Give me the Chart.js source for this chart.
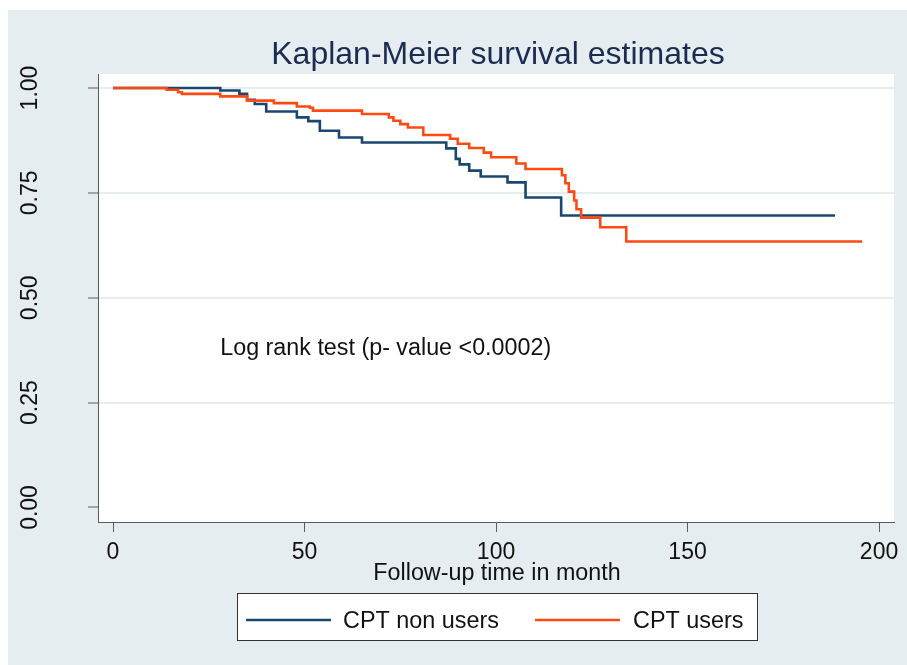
<!DOCTYPE html>
<html><head><meta charset="utf-8">
<script src="https://cdn.jsdelivr.net/npm/chart.js@4"></script>
<style>html,body{margin:0;padding:0;background:#fff;}#wrap{width:907px;height:665px;position:relative;}</style>
</head><body><div id="wrap"><canvas id="c" width="907" height="665"></canvas></div>
<script>
const titleText = 'Kaplan-Meier survival estimates';
const xAxisTitle = 'Follow-up time in month';
const annotationText = 'Log rank test (p- value <0.0002)';
const seriesNames = ['CPT non users', 'CPT users'];
const xTickValues = [0, 50, 100, 150, 200];
const xTickLabels = ['0', '50', '100', '150', '200'];
const yTickValues = [0, 0.25, 0.5, 0.75, 1];
const yTickLabels = ['0.00', '0.25', '0.50', '0.75', '1.00'];

const nonUsersTime = [0, 28, 33, 35, 37, 40, 48, 51, 54, 59, 65, 87, 89.5, 90.5, 93, 96, 103, 107.7, 117, 188.5];
const nonUsersSurv = [1, 0.994, 0.986, 0.972, 0.962, 0.944, 0.930, 0.921, 0.898, 0.882, 0.870, 0.856, 0.831, 0.818, 0.803, 0.789, 0.775, 0.739, 0.696, 0.696];

const usersTime = [0, 14, 17, 18, 28, 35, 42, 48, 51.4, 52.2, 65, 72, 73.2, 75, 77, 81, 88, 90, 93, 96.8, 98.7, 105.3, 107.7, 117.2, 118.1, 119, 120.4, 121, 122.2, 127.2, 134, 195.6];
const usersSurv = [1, 0.996, 0.990, 0.986, 0.980, 0.970, 0.964, 0.956, 0.953, 0.946, 0.938, 0.930, 0.922, 0.914, 0.906, 0.888, 0.879, 0.867, 0.857, 0.846, 0.835, 0.820, 0.807, 0.792, 0.773, 0.753, 0.732, 0.711, 0.691, 0.668, 0.634, 0.634];

const FONT = "'Liberation Sans', Arial, sans-serif";
const NAVY = '#1A476F';
const ORANGE = '#FF4A14';
const BG = '#E5EDF0';
const GRID = '#E5EDF0';
const AXIS = '#5a5a5a';

const toPts = (ts, ss) => ts.map((t, i) => ({ x: t, y: ss[i] }));

const decor = {
  id: 'decor',
  beforeDraw(chart) {
    const { ctx, chartArea: a } = chart;
    ctx.save();
    ctx.fillStyle = '#ffffff';
    ctx.fillRect(0, 0, chart.width, chart.height);
    ctx.fillStyle = BG;
    ctx.fillRect(8, 10, chart.width - 8, chart.height - 10);
    ctx.fillStyle = '#ffffff';
    ctx.fillRect(a.left, a.top, a.right - a.left, a.bottom - a.top);
    ctx.restore();
  },
  afterDraw(chart) {
    const { ctx, chartArea: a } = chart;
    const xs = chart.scales.x, ys = chart.scales.y;
    ctx.save();
    // title
    ctx.fillStyle = '#1C2B50';
    ctx.font = '32px ' + FONT;
    ctx.textAlign = 'center';
    ctx.textBaseline = 'alphabetic';
    ctx.fillText(titleText, 498, 64);
    // y tick labels (rotated)
    ctx.fillStyle = '#111';
    ctx.font = '23px ' + FONT;
    yTickValues.forEach((v, i) => {
      const py = ys.getPixelForValue(v);
      ctx.save();
      ctx.translate(37, py);
      ctx.rotate(-Math.PI / 2);
      ctx.textAlign = 'center';
      ctx.textBaseline = 'alphabetic';
      ctx.fillText(yTickLabels[i], 0, 0);
      ctx.restore();
    });
    // x tick labels
    ctx.textAlign = 'center';
    xTickValues.forEach((v, i) => {
      ctx.fillText(xTickLabels[i], xs.getPixelForValue(v), 559);
    });
    // x axis title
    ctx.font = '23.3px ' + FONT;
    ctx.fillText(xAxisTitle, 497, 580);
    // annotation
    ctx.textAlign = 'left';
    ctx.fillText(annotationText, xs.getPixelForValue(28), ys.getPixelForValue(0.383) + 8);
    // legend
    ctx.fillStyle = '#ffffff';
    ctx.fillRect(237, 593, 520, 47);
    ctx.strokeStyle = '#333';
    ctx.lineWidth = 1;
    ctx.strokeRect(237.5, 593.5, 520, 47);
    ctx.lineWidth = 2.5;
    ctx.strokeStyle = NAVY;
    ctx.beginPath(); ctx.moveTo(246, 620); ctx.lineTo(331, 620); ctx.stroke();
    ctx.strokeStyle = ORANGE;
    ctx.beginPath(); ctx.moveTo(535, 620); ctx.lineTo(620, 620); ctx.stroke();
    ctx.fillStyle = '#111';
    ctx.font = '23.4px ' + FONT;
    ctx.fillText(seriesNames[0], 343, 628);
    ctx.fillText(seriesNames[1], 633, 628);
    ctx.restore();
  }
};

new Chart(document.getElementById('c'), {
  type: 'line',
  data: {
    datasets: [
      { label: seriesNames[0], data: toPts(nonUsersTime, nonUsersSurv), borderColor: NAVY, borderWidth: 2.6, pointRadius: 0, stepped: true, fill: false, order: 1 },
      { label: seriesNames[1], data: toPts(usersTime, usersSurv), borderColor: ORANGE, borderWidth: 2.6, pointRadius: 0, stepped: true, fill: false, order: 0 }
    ]
  },
  options: {
    responsive: false,
    animation: false,
    devicePixelRatio: 1,
    layout: { padding: { left: 0, top: 74, right: 13, bottom: 0 } },
    plugins: { legend: { display: false }, title: { display: false }, tooltip: { enabled: false } },
    scales: {
      x: {
        type: 'linear', min: -3.92, max: 203.9,
        afterBuildTicks: s => { s.ticks = xTickValues.map(v => ({ value: v })); },
        afterFit: s => { s.height = 143; },
        ticks: { display: false },
        grid: { drawOnChartArea: false, drawTicks: true, tickLength: 10, tickColor: AXIS, tickWidth: 1 },
        border: { color: AXIS, width: 1 }
      },
      y: {
        type: 'linear', min: -0.0346, max: 1.0334,
        afterBuildTicks: s => { s.ticks = yTickValues.map(v => ({ value: v })); },
        afterFit: s => { s.width = 98; },
        ticks: { display: false },
        grid: { drawOnChartArea: true, color: c => (c.tick && c.tick.value === 0) ? 'rgba(0,0,0,0)' : GRID, lineWidth: 2, drawTicks: true, tickLength: 10, tickColor: AXIS, tickWidth: 1 },
        border: { color: AXIS, width: 1 }
      }
    }
  },
  plugins: [decor]
});
</script>
</body></html>
